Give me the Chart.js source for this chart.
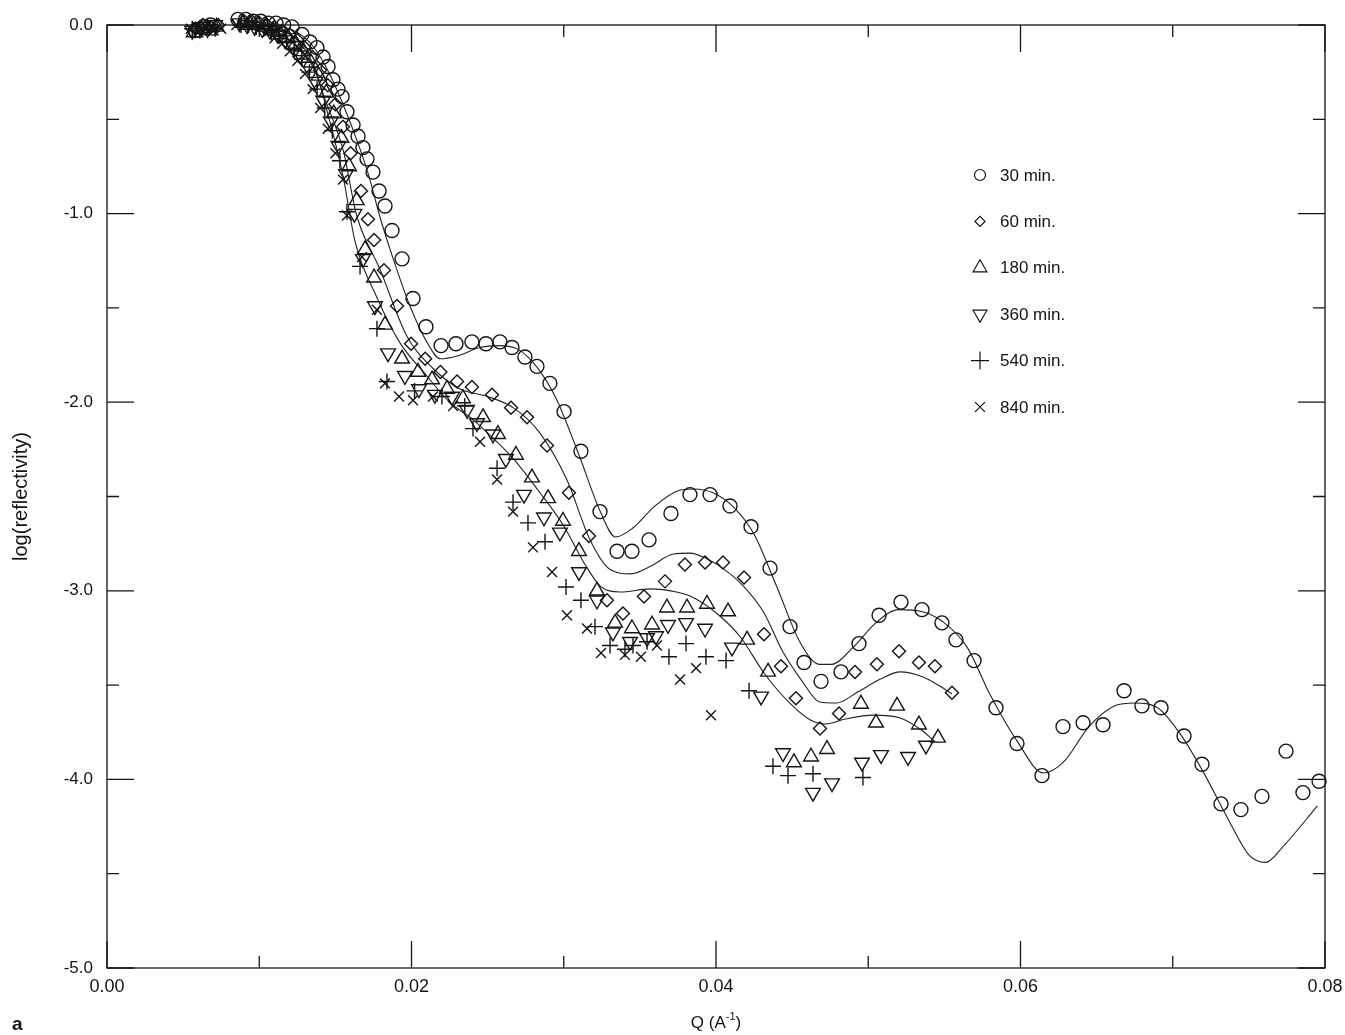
<!DOCTYPE html>
<html>
<head>
<meta charset="utf-8">
<script src="https://cdn.jsdelivr.net/npm/chart.js@4.4.0/dist/chart.umd.min.js"></script>
<style>
body { margin: 0; background: #fff; }
#wrap { width: 1345px; height: 1035px; }
</style>
</head>
<body>
<div id="wrap"><canvas id="myChart" width="1345" height="1035"></canvas></div>
<script>
// legend labels
var seriesLabels = ["30 min.", "60 min.", "180 min.", "360 min.", "540 min.", "840 min."];

// measured points: Q (1/A) and log(reflectivity)
var q30 = [0.0058,0.0063,0.0068,0.0086,0.0091,0.0096,0.0101,0.0106,0.0111,0.0116,0.01215,0.01281,0.01333,0.01379,0.01419,0.01452,0.01484,0.01517,0.01544,0.01576,0.01616,0.01649,0.01681,0.01708,0.01747,0.01787,0.01826,0.01872,0.01938,0.02010,0.02095,0.02194,0.02292,0.02397,0.02489,0.02581,0.02660,0.02745,0.02824,0.02909,0.03002,0.03113,0.03238,0.03350,0.03448,0.03560,0.03704,0.03829,0.03961,0.04092,0.04230,0.04355,0.04486,0.04578,0.04690,0.04821,0.04939,0.05071,0.05215,0.05353,0.05484,0.05576,0.05695,0.05839,0.05977,0.06141,0.06279,0.06411,0.06542,0.06680,0.06798,0.06923,0.07074,0.07192,0.07317,0.07448,0.07586,0.07744,0.07855,0.07961];
var r30 = [-0.03,-0.01,0.0,0.03,0.03,0.02,0.02,0.01,0.01,0.0,-0.01,-0.05,-0.09,-0.12,-0.17,-0.22,-0.29,-0.34,-0.38,-0.46,-0.53,-0.59,-0.65,-0.71,-0.78,-0.88,-0.96,-1.09,-1.24,-1.45,-1.60,-1.70,-1.69,-1.68,-1.69,-1.68,-1.71,-1.76,-1.81,-1.90,-2.05,-2.26,-2.58,-2.79,-2.79,-2.73,-2.59,-2.49,-2.49,-2.55,-2.66,-2.88,-3.19,-3.38,-3.48,-3.43,-3.28,-3.13,-3.06,-3.10,-3.17,-3.26,-3.37,-3.62,-3.81,-3.98,-3.72,-3.70,-3.71,-3.53,-3.61,-3.62,-3.77,-3.92,-4.13,-4.16,-4.09,-3.85,-4.07,-4.01];

var q60 = [0.0058,0.0063,0.0068,0.0073,0.0090,0.0095,0.0100,0.0105,0.0110,0.0115,0.0120,0.0125,0.0130,0.0135,0.0140,0.0145,0.0150,0.0155,0.0160,0.01668,0.01714,0.01754,0.01819,0.01905,0.01997,0.0209,0.0219,0.02299,0.02397,0.02529,0.02654,0.02759,0.02890,0.03034,0.03166,0.03284,0.03389,0.03527,0.03665,0.03796,0.03928,0.04046,0.04184,0.04315,0.04427,0.04525,0.04683,0.04808,0.04913,0.05057,0.05202,0.05333,0.05438,0.05550];
var r60 = [-0.02,0.0,-0.01,0.0,0.02,0.02,0.01,0.0,-0.01,-0.03,-0.05,-0.08,-0.12,-0.17,-0.24,-0.32,-0.42,-0.54,-0.68,-0.88,-1.03,-1.14,-1.30,-1.49,-1.69,-1.77,-1.84,-1.89,-1.92,-1.96,-2.03,-2.08,-2.23,-2.48,-2.71,-3.05,-3.12,-3.03,-2.95,-2.86,-2.85,-2.85,-2.93,-3.23,-3.40,-3.57,-3.73,-3.65,-3.43,-3.39,-3.32,-3.38,-3.40,-3.54];

var q180 = [0.0057,0.0062,0.0067,0.0072,0.0089,0.0094,0.0099,0.0104,0.0109,0.0114,0.0119,0.0124,0.0129,0.0134,0.0139,0.0144,0.0149,0.0154,0.0159,0.0164,0.01695,0.01754,0.01826,0.01938,0.02043,0.02135,0.02233,0.02338,0.0247,0.02568,0.02686,0.02791,0.02897,0.02995,0.0310,0.03218,0.03337,0.03448,0.0358,0.03678,0.0381,0.03941,0.04079,0.04204,0.04342,0.04512,0.04624,0.04729,0.04952,0.05051,0.05189,0.05333,0.05458];
var r180 = [-0.04,-0.02,-0.03,-0.01,0.01,0.0,0.0,-0.01,-0.03,-0.05,-0.07,-0.10,-0.14,-0.20,-0.27,-0.36,-0.47,-0.60,-0.75,-0.93,-1.19,-1.34,-1.59,-1.77,-1.84,-1.88,-1.93,-1.98,-2.08,-2.17,-2.28,-2.40,-2.51,-2.63,-2.79,-3.00,-3.17,-3.20,-3.18,-3.09,-3.09,-3.07,-3.11,-3.26,-3.43,-3.91,-3.88,-3.84,-3.60,-3.70,-3.61,-3.71,-3.78];

var q360 = [0.0056,0.0061,0.0066,0.0071,0.0087,0.0092,0.0097,0.0102,0.0107,0.0112,0.0117,0.0122,0.0127,0.0132,0.0137,0.0142,0.0147,0.0152,0.0157,0.01625,0.01681,0.0176,0.01846,0.01957,0.02049,0.02154,0.02266,0.02365,0.0243,0.02535,0.0262,0.02739,0.0287,0.02975,0.0310,0.03218,0.03323,0.03435,0.03547,0.03606,0.03685,0.03803,0.03928,0.04105,0.04296,0.0444,0.04637,0.04762,0.04959,0.05084,0.05261,0.05379];
var r360 = [-0.03,-0.01,-0.02,0.0,0.01,0.0,-0.01,-0.02,-0.03,-0.05,-0.08,-0.11,-0.16,-0.22,-0.30,-0.40,-0.51,-0.64,-0.79,-1.00,-1.24,-1.49,-1.74,-1.86,-1.93,-1.96,-1.97,-2.04,-2.11,-2.17,-2.30,-2.49,-2.61,-2.69,-2.90,-3.05,-3.22,-3.27,-3.25,-3.24,-3.18,-3.17,-3.20,-3.30,-3.56,-3.86,-4.07,-4.02,-3.91,-3.87,-3.88,-3.82];

var q540 = [0.0056,0.0061,0.0066,0.0071,0.0088,0.0093,0.0098,0.0103,0.0108,0.0113,0.0118,0.0123,0.0128,0.0133,0.0138,0.0143,0.0148,0.0153,0.01576,0.01662,0.01773,0.01839,0.0202,0.0220,0.0235,0.02404,0.02562,0.02667,0.02765,0.02877,0.03015,0.03113,0.03205,0.03304,0.03402,0.03455,0.03547,0.03691,0.03803,0.03934,0.04066,0.04217,0.04374,0.04473,0.04637,0.04965];
var r540 = [-0.02,-0.03,-0.01,-0.02,0.0,0.0,-0.01,-0.02,-0.04,-0.06,-0.09,-0.13,-0.18,-0.25,-0.34,-0.44,-0.56,-0.72,-0.99,-1.28,-1.61,-1.89,-1.94,-1.97,-2.02,-2.14,-2.35,-2.53,-2.64,-2.74,-2.98,-3.05,-3.19,-3.29,-3.31,-3.29,-3.27,-3.35,-3.28,-3.35,-3.37,-3.53,-3.93,-3.98,-3.97,-3.99];

var q840 = [0.0055,0.0060,0.0065,0.0070,0.0075,0.0085,0.0090,0.0095,0.0100,0.0105,0.0110,0.0115,0.0120,0.0125,0.0130,0.0135,0.0140,0.0145,0.0150,0.0155,0.01576,0.01675,0.01773,0.01826,0.01918,0.0201,0.02141,0.02273,0.0245,0.02562,0.02667,0.02798,0.02923,0.03021,0.03153,0.03245,0.03402,0.03507,0.03612,0.03764,0.03869,0.03967];
var r840 = [-0.02,-0.04,-0.01,-0.03,-0.02,0.0,0.0,-0.01,-0.02,-0.04,-0.07,-0.10,-0.14,-0.19,-0.26,-0.34,-0.44,-0.55,-0.68,-0.82,-1.01,-1.23,-1.51,-1.90,-1.97,-1.99,-1.97,-2.02,-2.21,-2.41,-2.58,-2.77,-2.90,-3.13,-3.20,-3.33,-3.34,-3.35,-3.29,-3.47,-3.41,-3.66];

// fitted curves
var fq30 = [0.0090,0.0105,0.0115,0.0125,0.0135,0.0145,0.0155,0.0165,0.0172,0.0179,0.0188,0.0199,0.0210,0.0219,0.0230,0.0245,0.0258,0.0270,0.0282,0.0295,0.0310,0.0324,0.0334,0.0345,0.0360,0.0375,0.0385,0.0398,0.0412,0.0425,0.0440,0.0455,0.0468,0.0476,0.0490,0.0505,0.0520,0.0535,0.0550,0.0565,0.0580,0.0598,0.0615,0.0628,0.0645,0.0662,0.0675,0.0690,0.0705,0.0720,0.0737,0.0750,0.0761,0.0772,0.0795];
var fr30 = [0.0,0.0,-0.01,-0.04,-0.11,-0.24,-0.42,-0.63,-0.80,-1.01,-1.24,-1.49,-1.68,-1.77,-1.755,-1.71,-1.70,-1.72,-1.81,-1.98,-2.28,-2.58,-2.715,-2.67,-2.55,-2.47,-2.46,-2.48,-2.56,-2.70,-2.98,-3.27,-3.39,-3.39,-3.30,-3.17,-3.10,-3.11,-3.17,-3.30,-3.55,-3.80,-3.966,-3.91,-3.72,-3.61,-3.595,-3.62,-3.76,-3.96,-4.22,-4.40,-4.44,-4.36,-4.14];
var fq60 = [0.0090,0.0105,0.0115,0.0125,0.0135,0.0143,0.0155,0.0164,0.0179,0.0197,0.0214,0.0232,0.0250,0.0267,0.0284,0.0302,0.0317,0.0330,0.0344,0.0357,0.0372,0.0383,0.0394,0.0405,0.0418,0.0431,0.0444,0.0457,0.0468,0.0479,0.0493,0.0508,0.0521,0.0536,0.0547,0.0555];
var fr60 = [0.0,-0.01,-0.03,-0.08,-0.20,-0.39,-0.66,-1.01,-1.29,-1.65,-1.82,-1.93,-1.97,-2.03,-2.16,-2.41,-2.725,-2.884,-2.91,-2.87,-2.805,-2.80,-2.83,-2.884,-2.975,-3.11,-3.325,-3.484,-3.59,-3.595,-3.537,-3.468,-3.43,-3.457,-3.505,-3.547];
var fq180 = [0.0090,0.0105,0.0115,0.0125,0.0137,0.0146,0.0155,0.0163,0.0177,0.0192,0.0210,0.0225,0.0240,0.0245,0.0267,0.0284,0.0300,0.0313,0.0324,0.0337,0.0357,0.0374,0.0383,0.0401,0.0416,0.0432,0.0449,0.0462,0.0472,0.0485,0.0503,0.0521,0.0534,0.0544];
var fr180 = [0.0,-0.02,-0.05,-0.12,-0.25,-0.50,-0.80,-1.15,-1.44,-1.68,-1.86,-2.00,-2.09,-2.126,-2.30,-2.476,-2.656,-2.847,-2.975,-3.006,-2.99,-3.006,-3.028,-3.123,-3.245,-3.441,-3.60,-3.685,-3.706,-3.68,-3.659,-3.674,-3.733,-3.80];

var xTicks = [0.00, 0.01, 0.02, 0.03, 0.04, 0.05, 0.06, 0.07, 0.08];
var yTicks = [0.0, -0.5, -1.0, -1.5, -2.0, -2.5, -3.0, -3.5, -4.0, -4.5, -5.0];

var INK = "#141414";
var FONT = "'Liberation Sans', Arial, Helvetica, sans-serif";

function pts(xs, ys) {
    var out = [];
    for (var i = 0; i < Math.min(xs.length, ys.length); i++) out.push({x: xs[i], y: ys[i]});
    return out;
}

function markers(label, xs, ys, style, radius, rotation) {
    return {
        label: label,
        data: pts(xs, ys),
        showLine: false,
        pointStyle: style,
        pointRadius: radius,
        pointRotation: rotation || 0,
        pointBorderWidth: 1.4,
        pointBorderColor: INK,
        pointBackgroundColor: "rgba(0,0,0,0)",
        borderColor: INK,
        backgroundColor: "rgba(0,0,0,0)",
        clip: false
    };
}

function fitLine(xs, ys) {
    return {
        label: "fit",
        data: pts(xs, ys),
        showLine: true,
        pointRadius: 0,
        borderColor: "#222",
        borderWidth: 1.1,
        cubicInterpolationMode: "monotone",
        fill: false,
        clip: false
    };
}

var datasets = [
    markers(seriesLabels[0], q30, r30, "circle", 7),
    markers(seriesLabels[1], q60, r60, "rectRot", 6.5),
    markers(seriesLabels[2], q180, r180, "triangle", 8.5),
    markers(seriesLabels[3], q360, r360, "triangle", 8.5, 180),
    markers(seriesLabels[4], q540, r540, "cross", 8),
    markers(seriesLabels[5], q840, r840, "crossRot", 7),
    fitLine(fq30, fr30),
    fitLine(fq60, fr60),
    fitLine(fq180, fr180)
];

// frame with inward ticks on all four sides
var frameTicks = {
    id: "frameTicks",
    afterDatasetsDraw: function(chart) {
        var ctx = chart.ctx, a = chart.chartArea;
        var xs = chart.scales.x, ys = chart.scales.y;
        ctx.save();
        ctx.strokeStyle = INK;
        ctx.lineWidth = 1.3;
        ctx.strokeRect(a.left, a.top, a.right - a.left, a.bottom - a.top);
        ctx.beginPath();
        xTicks.forEach(function(v, i) {
            var px = xs.getPixelForValue(v);
            var len = (i % 2 == 0) ? 27 : 12;
            ctx.moveTo(px, a.bottom); ctx.lineTo(px, a.bottom - len);
            ctx.moveTo(px, a.top); ctx.lineTo(px, a.top + len);
        });
        yTicks.forEach(function(v, i) {
            var py = ys.getPixelForValue(v);
            var len = (i % 2 == 0) ? 27 : 12;
            ctx.moveTo(a.left, py); ctx.lineTo(a.left + len, py);
            ctx.moveTo(a.right, py); ctx.lineTo(a.right - len, py);
        });
        ctx.stroke();
        ctx.restore();
    }
};

// legend inside the plot, marker + text
var insideLegend = {
    id: "insideLegend",
    afterDraw: function(chart) {
        var ctx = chart.ctx;
        var sizes = [5.5, 5, 8, 8, 9, 7];
        ctx.save();
        ctx.font = "17px " + FONT;
        ctx.textBaseline = "middle";
        for (var i = 0; i < seriesLabels.length; i++) {
            var ds = chart.data.datasets[i];
            var y = 175 + 46.4 * i;
            ctx.strokeStyle = INK;
            ctx.fillStyle = "rgba(0,0,0,0)";
            ctx.lineWidth = 1.2;
            Chart.helpers.drawPoint(ctx, {
                pointStyle: ds.pointStyle,
                rotation: ds.pointRotation,
                radius: sizes[i],
                borderWidth: 1.2
            }, 980, y);
            ctx.fillStyle = INK;
            ctx.fillText(seriesLabels[i], 1000, y + 1);
        }
        ctx.restore();
    }
};

// axis titles and panel letter
var axisTitles = {
    id: "axisTitles",
    afterDraw: function(chart) {
        var ctx = chart.ctx, a = chart.chartArea;
        ctx.save();
        ctx.fillStyle = INK;
        ctx.font = "20px " + FONT;
        ctx.textAlign = "center";
        ctx.textBaseline = "middle";
        ctx.translate(21, (a.top + a.bottom) / 2);
        ctx.rotate(-Math.PI / 2);
        ctx.fillText("log(reflectivity)", 0, 0);
        ctx.restore();

        ctx.save();
        ctx.fillStyle = INK;
        ctx.textBaseline = "alphabetic";
        ctx.font = "17px " + FONT;
        var p1 = "Q (A", p2 = "-1", p3 = ")";
        var w1 = ctx.measureText(p1).width, w3 = ctx.measureText(p3).width;
        ctx.font = "11px " + FONT;
        var w2 = ctx.measureText(p2).width;
        var cx = (a.left + a.right) / 2;
        var x0 = cx - (w1 + w2 + w3) / 2, base = 1028;
        ctx.font = "17px " + FONT;
        ctx.fillText(p1, x0, base);
        ctx.font = "11px " + FONT;
        ctx.fillText(p2, x0 + w1, base - 8);
        ctx.font = "17px " + FONT;
        ctx.fillText(p3, x0 + w1 + w2, base);
        ctx.font = "bold 19px " + FONT;
        ctx.fillText("a", 12, 1030);
        ctx.restore();
    }
};

new Chart("myChart", {
    type: "scatter",
    data: { datasets: datasets },
    options: {
        responsive: false,
        animation: false,
        layout: { padding: { left: 10, right: 20, top: 25, bottom: 10 } },
        plugins: {
            legend: { display: false },
            tooltip: { enabled: false }
        },
        scales: {
            x: {
                type: "linear",
                min: 0, max: 0.08,
                grid: { display: false, drawTicks: false },
                border: { display: false },
                afterFit: function(s) { s.height = 57; s.paddingLeft = 0; s.paddingRight = 0; },
                afterBuildTicks: function(s) { s.ticks = xTicks.map(function(v) { return {value: v}; }); },
                ticks: {
                    autoSkip: false, maxRotation: 0, padding: 8,
                    color: INK, font: { family: FONT, size: 18 },
                    callback: function(v) {
                        var k = Math.round(v * 100);
                        return (k % 2 == 0) ? v.toFixed(2) : "";
                    }
                }
            },
            y: {
                type: "linear",
                min: -5, max: 0,
                grid: { display: false, drawTicks: false },
                border: { display: false },
                afterFit: function(s) { s.width = 97; s.paddingTop = 0; s.paddingBottom = 0; },
                afterBuildTicks: function(s) { s.ticks = yTicks.map(function(v) { return {value: v}; }); },
                ticks: {
                    autoSkip: false, padding: 14,
                    color: INK, font: { family: FONT, size: 17 },
                    callback: function(v) {
                        return Math.abs(v - Math.round(v)) < 1e-6 ? (v == 0 ? "0.0" : v.toFixed(1)) : "";
                    }
                }
            }
        }
    },
    plugins: [frameTicks, insideLegend, axisTitles]
});
</script>
</body>
</html>
